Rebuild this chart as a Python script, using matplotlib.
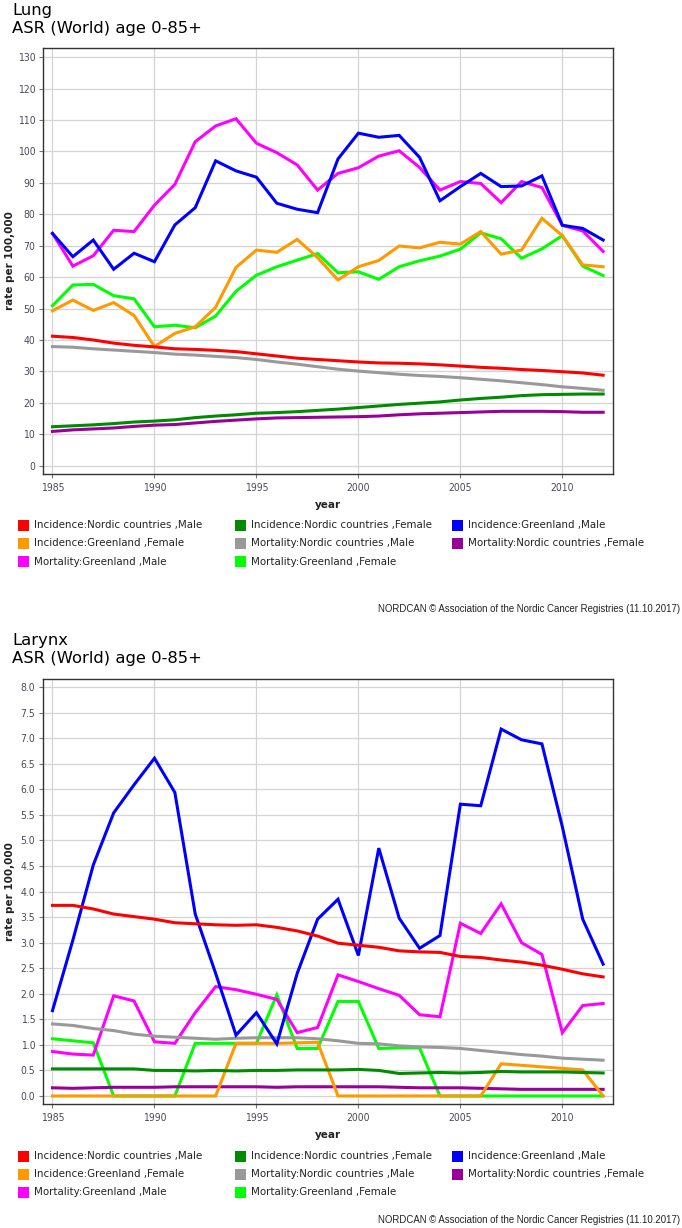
import matplotlib
matplotlib.use('Agg')
import matplotlib.pyplot as plt
from matplotlib.patches import Rectangle
from matplotlib.ticker import MultipleLocator, FormatStrFormatter

W, H = 682, 1228

years = list(range(1985, 2013))

series_labels = [
    "Incidence:Nordic countries ,Male", "Incidence:Nordic countries ,Female", "Incidence:Greenland ,Male",
    "Incidence:Greenland ,Female", "Mortality:Nordic countries ,Male", "Mortality:Nordic countries ,Female",
    "Mortality:Greenland ,Male", "Mortality:Greenland ,Female",
]
series_colors = ["#ff0000", "#008c00", "#0000ff", "#ff9900", "#999999", "#990099", "#ff00ff", "#00ff00"]

# ---- Lung ----
lung_inc_nordic_male = [41.2, 40.8, 40.0, 39.0, 38.3, 37.8, 37.2, 37.0, 36.7, 36.3, 35.6, 34.9, 34.2, 33.8,
                        33.4, 33.0, 32.7, 32.6, 32.4, 32.1, 31.7, 31.3, 31.0, 30.6, 30.3, 29.9, 29.5, 28.8]
lung_inc_nordic_female = [12.4, 12.7, 13.0, 13.4, 13.9, 14.2, 14.6, 15.3, 15.8, 16.2, 16.7, 16.9, 17.2, 17.6,
                          18.0, 18.5, 19.0, 19.5, 19.9, 20.3, 20.9, 21.4, 21.8, 22.3, 22.6, 22.7, 22.8, 22.8]
lung_inc_gl_male = [73.9, 66.5, 71.8, 62.5, 67.6, 64.9, 76.6, 82.1, 97.0, 93.8, 91.8, 83.5, 81.6, 80.5,
                    97.6, 105.8, 104.5, 105.1, 98.1, 84.3, 88.8, 93.0, 88.8, 89.0, 92.2, 76.5, 75.5, 71.8]
lung_inc_gl_female = [49.3, 52.7, 49.4, 51.9, 47.8, 37.9, 42.1, 44.2, 50.4, 63.1, 68.6, 67.9, 72.0, 66.2,
                      59.1, 63.3, 65.3, 69.9, 69.3, 71.1, 70.5, 74.5, 67.3, 68.6, 78.7, 73.2, 63.9, 63.3]
lung_mort_nordic_male = [37.9, 37.7, 37.2, 36.8, 36.4, 36.0, 35.5, 35.2, 34.8, 34.4, 33.8, 33.0, 32.3, 31.5,
                         30.7, 30.1, 29.6, 29.1, 28.7, 28.4, 28.0, 27.5, 27.0, 26.4, 25.8, 25.1, 24.6, 24.0]
lung_mort_nordic_female = [10.9, 11.4, 11.7, 12.0, 12.5, 12.9, 13.1, 13.6, 14.1, 14.5, 14.9, 15.2, 15.3, 15.4,
                           15.5, 15.6, 15.8, 16.2, 16.5, 16.7, 16.9, 17.1, 17.3, 17.3, 17.3, 17.2, 17.0, 17.0]
lung_mort_gl_male = [73.9, 63.5, 66.8, 74.9, 74.5, 82.9, 89.5, 103.1, 108.1, 110.4, 102.6, 99.6, 95.7, 87.7,
                     93.0, 94.8, 98.5, 100.2, 94.9, 87.7, 90.4, 89.8, 83.7, 90.4, 88.5, 76.5, 74.7, 68.2]
lung_mort_gl_female = [50.9, 57.5, 57.7, 54.1, 53.1, 44.2, 44.7, 43.9, 47.6, 55.5, 60.6, 63.3, 65.4, 67.5,
                       61.4, 61.7, 59.3, 63.3, 65.2, 66.7, 68.9, 74.1, 72.2, 66.0, 69.0, 73.2, 63.5, 60.5]

# ---- Larynx ----
lar_inc_nordic_male = [3.73, 3.73, 3.66, 3.56, 3.51, 3.46, 3.39, 3.37, 3.35, 3.34, 3.35, 3.30, 3.23, 3.13,
                       2.99, 2.95, 2.91, 2.84, 2.82, 2.81, 2.73, 2.71, 2.66, 2.62, 2.56, 2.48, 2.39, 2.33]
lar_inc_nordic_female = [0.53, 0.53, 0.53, 0.53, 0.53, 0.50, 0.50, 0.49, 0.50, 0.49, 0.50, 0.50, 0.51, 0.51,
                         0.51, 0.52, 0.50, 0.44, 0.45, 0.46, 0.45, 0.46, 0.48, 0.47, 0.47, 0.47, 0.46, 0.45]
lar_inc_gl_male = [1.67, 3.05, 4.52, 5.54, 6.09, 6.61, 5.94, 3.56, 2.40, 1.19, 1.63, 1.02, 2.40, 3.46,
                   3.85, 2.75, 4.85, 3.48, 2.89, 3.14, 5.71, 5.68, 7.18, 6.97, 6.89, 5.27, 3.46, 2.58]
lar_inc_gl_female = [0, 0, 0, 0, 0, 0, 0, 0, 0, 1.03, 1.03, 1.03, 1.04, 1.05,
                     0, 0, 0, 0, 0, 0, 0, 0, 0.63, 0.60, 0.57, 0.54, 0.51, 0]
lar_mort_nordic_male = [1.41, 1.38, 1.32, 1.28, 1.21, 1.17, 1.15, 1.13, 1.11, 1.13, 1.14, 1.14, 1.14, 1.12,
                        1.08, 1.03, 1.02, 0.98, 0.96, 0.95, 0.93, 0.89, 0.85, 0.81, 0.78, 0.74, 0.72, 0.70]
lar_mort_nordic_female = [0.16, 0.15, 0.16, 0.17, 0.17, 0.17, 0.18, 0.18, 0.18, 0.18, 0.18, 0.17, 0.18, 0.18,
                          0.18, 0.18, 0.18, 0.17, 0.16, 0.16, 0.16, 0.15, 0.14, 0.13, 0.13, 0.13, 0.13, 0.13]
lar_mort_gl_male = [0.87, 0.82, 0.80, 1.96, 1.86, 1.06, 1.03, 1.63, 2.14, 2.08, 1.99, 1.89, 1.24, 1.34,
                    2.37, 2.24, 2.10, 1.97, 1.59, 1.55, 3.38, 3.18, 3.76, 3.00, 2.77, 1.24, 1.77, 1.81]
lar_mort_gl_female = [1.12, 1.08, 1.04, 0, 0, 0, 0, 1.03, 1.03, 1.03, 1.03, 1.98, 0.93, 0.93,
                      1.85, 1.85, 0.93, 0.94, 0.94, 0, 0, 0, 0, 0, 0, 0, 0, 0]

lung_series = [lung_inc_nordic_male, lung_inc_nordic_female, lung_inc_gl_male, lung_inc_gl_female,
               lung_mort_nordic_male, lung_mort_nordic_female, lung_mort_gl_male, lung_mort_gl_female]
lar_series = [lar_inc_nordic_male, lar_inc_nordic_female, lar_inc_gl_male, lar_inc_gl_female,
              lar_mort_nordic_male, lar_mort_nordic_female, lar_mort_gl_male, lar_mort_gl_female]

title_lines = [("Lung", "ASR (World) age 0-85+"), ("Larynx", "ASR (World) age 0-85+")]
footer = "NORDCAN \u00a9 Association of the Nordic Cancer Registries (11.10.2017)"

COND = dict(family="DejaVu Sans", stretch="condensed")

fig = plt.figure(figsize=(W / 100, H / 100), dpi=100)
fig.patch.set_facecolor("white")


def fx(x):
    return x / W


def fy(y):
    return 1 - y / H


def panel(top_px, bottom_px, series, ylim, ymajor, yfmt, titles, title_base, legend_y, footer_y):
    left_px, right_px = 43.3, 612.7
    ax = fig.add_axes([fx(left_px), fy(bottom_px), fx(right_px - left_px), (bottom_px - top_px) / H])
    n = len(series)
    for i, (vals, col, lab) in enumerate(zip(series, series_colors, series_labels)):
        ax.plot(years, vals, color=col, lw=2.2, label=lab, zorder=10 + n - i, solid_joinstyle="miter")
    ax.set_xlim(1984.55, 2012.47)
    ax.set_ylim(*ylim)
    ax.xaxis.set_major_locator(MultipleLocator(5))
    ax.yaxis.set_major_locator(MultipleLocator(ymajor))
    ax.yaxis.set_major_formatter(FormatStrFormatter(yfmt))
    ax.grid(True, color="#d4d4d4", lw=0.9)
    ax.set_axisbelow(True)
    for s in ax.spines.values():
        s.set_color("#333333")
        s.set_linewidth(1.0)
    ax.tick_params(direction="out", length=3, width=0.8, color="#777777", labelcolor="#4a4a5a",
                   labelsize=7.5)
    ax.tick_params(axis="y", pad=2.8)
    ax.tick_params(axis="x", pad=3.2)
    for t in ax.get_xticklabels() + ax.get_yticklabels():
        t.set_fontstretch("condensed")
    ax.set_xlabel("year", fontsize=7.5, fontweight="bold", color="#222222")
    ax.xaxis.set_label_coords(0.5, -0.06)
    ax.set_ylabel("rate per 100,000", fontsize=7.5, fontweight="bold", color="#222222")
    ax.yaxis.set_label_coords(-0.049, 0.5)
    # titles
    fig.text(fx(12.5), fy(title_base[0]), titles[0], fontsize=11.8, va="baseline", ha="left",
             color="black", family="DejaVu Sans")
    fig.text(fx(12.5), fy(title_base[1]), titles[1], fontsize=11.8, va="baseline", ha="left",
             color="black", family="DejaVu Sans")
    # legend
    col_x = [17.6, 234.8, 451.5]
    for i, (col, lab) in enumerate(zip(series_colors, series_labels)):
        r, c = divmod(i, 3)
        x0 = col_x[c]
        y0 = legend_y[r]
        fig.add_artist(Rectangle((fx(x0), fy(y0 + 5.5)), 11.5 / W, 11.0 / H, transform=fig.transFigure,
                                 facecolor=col, edgecolor="none"))
        fig.text(fx(x0 + 16.5), fy(y0), lab, fontsize=8.2, va="center", ha="left", color="#222222", **COND)
    fig.text(fx(680), fy(footer_y), footer, fontsize=6.9, va="center", ha="right", color="#222222",
             family="Liberation Sans")
    return ax


ax1 = panel(48, 474, lung_series, (-2.64, 132.9), 10, "%d", title_lines[0], (15.3, 33.0),
            [525, 543.3, 561.7], 609)
ax2 = panel(679, 1104, lar_series, (-0.157, 8.16), 0.5, "%.1f", title_lines[1], (645.3, 663.0),
            [1156, 1174, 1192], 1220)

fig.savefig("out.png", dpi=100, facecolor="white")
